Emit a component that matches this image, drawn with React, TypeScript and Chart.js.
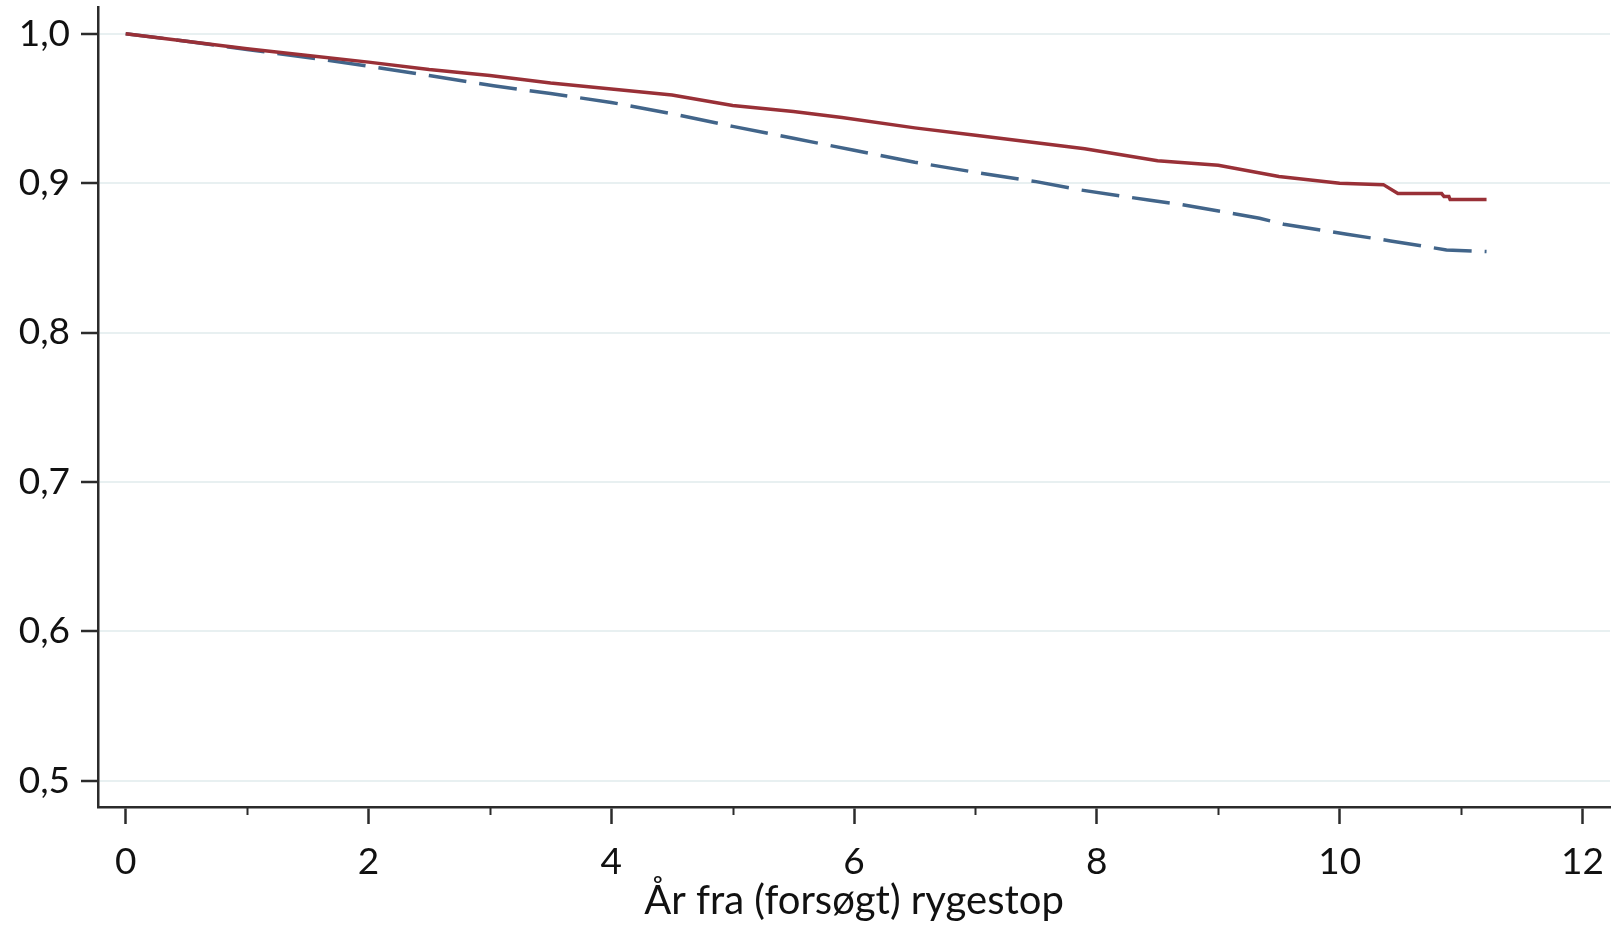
import React, { useEffect, useRef } from "react";
import { Chart, registerables } from "chart.js";

Chart.register(...registerables);

// Kaplan-Meier style curves
const redYears = [0, 0.5, 1, 1.5, 2, 2.5, 3, 3.5, 4, 4.5, 5, 5.5, 5.9, 6.5, 7, 7.5, 7.9, 8.5, 9, 9.5, 10, 10.36, 10.48, 10.84, 10.86, 10.9, 10.91, 11.21];
const redSurv = [1.0, 0.995, 0.99, 0.9855, 0.981, 0.976, 0.972, 0.967, 0.963, 0.959, 0.952, 0.948, 0.944, 0.937, 0.932, 0.927, 0.923, 0.915, 0.912, 0.9045, 0.9, 0.899, 0.893, 0.893, 0.891, 0.891, 0.889, 0.889];

const blueYears = [0, 0.5, 1, 1.63, 2.07, 2.5, 3.03, 3.5, 4, 4.5, 5, 5.5, 6, 6.5, 7.04, 7.5, 7.86, 8.44, 8.69, 9.34, 9.54, 10.06, 10.42, 10.88, 11.21];
const blueSurv = [1.0, 0.995, 0.9895, 0.9826, 0.9774, 0.972, 0.9652, 0.96, 0.954, 0.9465, 0.938, 0.93, 0.922, 0.914, 0.9067, 0.901, 0.8955, 0.8885, 0.8858, 0.8765, 0.8725, 0.8658, 0.8613, 0.8553, 0.8542];

const xMajorTicks = [0, 2, 4, 6, 8, 10, 12];
const xMinorTicks = [1, 3, 5, 7, 9, 11];
const yTicks = [0.5, 0.6, 0.7, 0.8, 0.9, 1.0];
const xTitle = "År fra (forsøgt) rygestop";

const FONT = "Lato";
const DARK = "#2b2b2b";

export default function App() {
  const ref = useRef<HTMLCanvasElement | null>(null);

  useEffect(() => {
    document.body.style.margin = "0";
    const canvas = ref.current;
    if (!canvas) return;

    const minorTickPlugin = {
      id: "minorTicks",
      afterDraw(chart: any) {
        const xs = chart.scales.x;
        const ctx = chart.ctx;
        ctx.save();
        ctx.strokeStyle = DARK;
        ctx.lineWidth = 2;
        xMinorTicks.forEach((v) => {
          const px = Math.round(xs.getPixelForValue(v)) + 0.5;
          ctx.beginPath();
          ctx.moveTo(px, xs.top);
          ctx.lineTo(px, xs.top + 8);
          ctx.stroke();
        });
        ctx.restore();
      },
    };

    const allX = [...xMajorTicks, ...xMinorTicks].sort((a, b) => a - b);

    const chart = new Chart(canvas, {
      type: "line",
      data: {
        datasets: [
          {
            label: "red",
            data: redYears.map((x, i) => ({ x, y: redSurv[i] })),
            borderColor: "#993037",
            borderWidth: 3.5,
            pointRadius: 0,
            tension: 0,
            fill: false,
          },
          {
            label: "blue",
            data: blueYears.map((x, i) => ({ x, y: blueSurv[i] })),
            borderColor: "#42658a",
            borderWidth: 3.5,
            borderDash: [38, 13],
            pointRadius: 0,
            tension: 0,
            fill: false,
          },
        ],
      },
      options: {
        animation: false,
        responsive: true,
        maintainAspectRatio: false,
        layout: { padding: { top: 7, right: 4, left: 0, bottom: 0 } },
        plugins: {
          legend: { display: false },
          tooltip: { enabled: false },
        },
        scales: {
          x: {
            type: "linear",
            min: -0.228,
            max: 12.227,
            afterBuildTicks: (scale: any) => {
              scale.ticks = allX.map((v) => ({ value: v }));
            },
            afterFit: (scale: any) => {
              scale.height = 118;
              scale.paddingLeft = 0;
              scale.paddingRight = 0;
              scale.paddingTop = 0;
              scale.paddingBottom = 0;
            },
            grid: {
              drawOnChartArea: false,
              drawTicks: true,
              tickLength: 17,
              tickWidth: 2.5,
              tickColor: (ctx: any) =>
                ctx.tick && xMajorTicks.includes(ctx.tick.value) ? DARK : "rgba(0,0,0,0)",
            },
            border: { display: true, color: DARK, width: 2.5 },
            ticks: {
              autoSkip: false,
              maxRotation: 0,
              padding: 16,
              color: "#111",
              font: { family: FONT, size: 37 },
              callback: (v: any) => (xMajorTicks.includes(Number(v)) ? String(v) : ""),
            },
            title: {
              display: true,
              text: xTitle,
              color: "#111",
              font: { family: FONT, size: 40 },
              padding: { top: 0, bottom: 0 },
            },
          },
          y: {
            type: "linear",
            min: 0.4824,
            max: 1.0179,
            afterBuildTicks: (scale: any) => {
              scale.ticks = yTicks.map((v) => ({ value: v }));
            },
            afterFit: (scale: any) => {
              scale.width = 98;
              scale.paddingLeft = 0;
              scale.paddingRight = 0;
              scale.paddingTop = 0;
              scale.paddingBottom = 0;
            },
            grid: {
              color: "#e8f0f1",
              lineWidth: 2,
              drawTicks: true,
              tickLength: 17,
              tickWidth: 2.5,
              tickColor: DARK,
            },
            border: { display: true, color: DARK, width: 2.5 },
            ticks: {
              padding: 11,
              color: "#111",
              font: { family: FONT, size: 37 },
              callback: (v: any) => Number(v).toFixed(1).replace(".", ","),
            },
          },
        },
      },
      plugins: [minorTickPlugin],
    } as any);

    return () => chart.destroy();
  }, []);

  return (
    <div style={{ position: "fixed", left: 0, top: 0, width: "1614px", height: "925px", background: "#fff" }}>
      <canvas ref={ref} />
    </div>
  );
}
